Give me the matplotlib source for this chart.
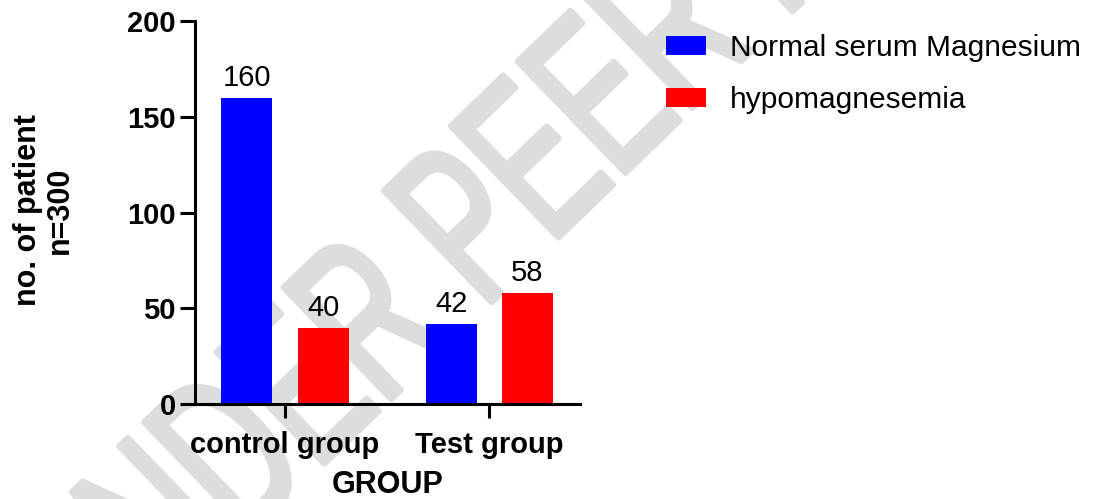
import numpy as np
import matplotlib
matplotlib.use("Agg")
import matplotlib.pyplot as plt
from matplotlib.textpath import TextPath
from matplotlib.font_manager import FontProperties
from matplotlib.patches import PathPatch
from matplotlib.transforms import Affine2D, IdentityTransform

plt.rcParams['font.family'] = ['Liberation Sans', 'DejaVu Sans']

# data
groups = ["control group", "Test group"]
normal_mg = [160, 42]
hypo_mg = [40, 58]
series_names = ["Normal serum Magnesium", "hypomagnesemia"]
colores = ["#0000ff", "#ff0000"]
watermark = "UNDER PEER REVIEW"

fig = plt.figure(figsize=(10.96, 4.99), dpi=100)
ax = fig.add_axes([0.178, 0.190, 0.351, 0.768])
ax.set_facecolor("none")

# watermark: tall narrow grey letters behind the chart
fp = FontProperties(family="Liberation Sans")
em = 225
tp = TextPath((0, 0), watermark, size=em, prop=fp)
p_end = TextPath((0, 0), "UNDER P", size=em, prop=fp).get_extents().x1
p_w = TextPath((0, 0), "P", size=em, prop=fp).get_extents().width
tr = (Affine2D().translate(-(p_end - p_w / 2), -0.36 * em)
      .scale(0.62, 1.0).rotate_deg(44).translate(462, 499 - 218))
wm = PathPatch(tr.transform_path(tp), facecolor="#dddddd", edgecolor="#dddddd",
               lw=4.5, joinstyle="round", capstyle="round",
               transform=IdentityTransform(), zorder=-5)
fig.add_artist(wm)

x = np.arange(len(groups))
off = 0.187
w = 0.25
b1 = ax.bar(x - off, normal_mg, w, color=colores[0], label=series_names[0], zorder=2)
b2 = ax.bar(x + off, hypo_mg, w, color=colores[1], label=series_names[1], zorder=2)
ax.bar_label(b1, padding=4, fontsize=21)
ax.bar_label(b2, padding=4, fontsize=21)

ax.set_xlim(-0.44, 1.443)
ax.set_ylim(0, 200)
ax.set_yticks([0, 50, 100, 150, 200])
ax.set_xticks(x)
ax.set_xticklabels(groups)

for s in ["top", "right"]:
    ax.spines[s].set_visible(False)
for s in ["left", "bottom"]:
    ax.spines[s].set_linewidth(2.2)

ax.tick_params(axis="y", length=11, width=2.2, pad=3, labelsize=21)
ax.tick_params(axis="x", length=10, width=2.2, pad=9, labelsize=21)
for lab in ax.get_xticklabels() + ax.get_yticklabels():
    lab.set_fontweight("bold")

ax.set_xlabel("GROUP", fontsize=22, fontweight="bold", labelpad=8)
fig.text(44 / 1096, 1 - 210 / 499, "no. of patient\nn=300", rotation=90,
         fontsize=22, fontweight="bold", ha="center", va="center",
         multialignment="center", linespacing=1.05)

fig.legend(loc="upper left", bbox_to_anchor=(666 / 1096, 1 - 34 / 499),
           frameon=False, fontsize=21.5, handlelength=1.34, handleheight=0.64,
           handletextpad=0.8, labelspacing=0.8, borderpad=0, borderaxespad=0)

fig.savefig("out.png", dpi=100)
